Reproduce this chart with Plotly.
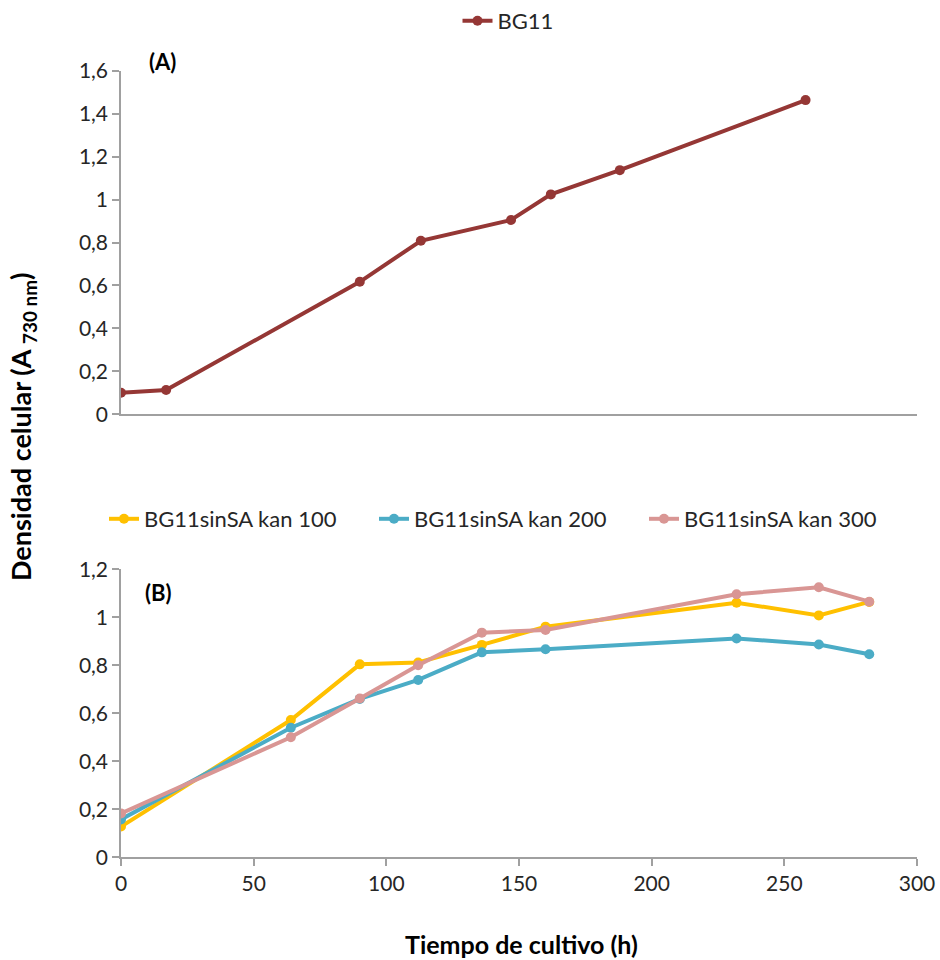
import plotly.graph_objects as go

# Panel A data
time_a = [0, 17, 90, 113, 147, 162, 188, 258]
bg11 = [0.10, 0.113, 0.617, 0.808, 0.905, 1.024, 1.137, 1.463]

# Panel B data
time_b = [0, 64, 90, 112, 136, 160, 232, 263, 282]
kan100 = [0.128, 0.572, 0.804, 0.812, 0.885, 0.961, 1.061, 1.008, 1.064]
kan200 = [0.158, 0.540, 0.660, 0.739, 0.854, 0.867, 0.912, 0.887, 0.846]
kan300 = [0.183, 0.500, 0.662, 0.800, 0.936, 0.947, 1.096, 1.125, 1.065]

FONT = "Lato"
AX = "#A0A0A0"
TXT = "#262626"

# figure fills the page (body margin removed via post_script)
OFF = 0
W, H = 940, 960


def px(p):
    return (p - OFF) / W


def py(p):
    return 1 - (p - OFF) / H


fig = go.Figure()

fig.add_trace(go.Scatter(x=time_a, y=bg11, name="BG11", mode="lines+markers",
                         line=dict(color="#953735", width=4), marker=dict(size=10, color="#953735"),
                         xaxis="x", yaxis="y", legend="legend"))

for name, vals, col in [("BG11sinSA kan 100", kan100, "#FFC000"),
                        ("BG11sinSA kan 200", kan200, "#4BACC6"),
                        ("BG11sinSA kan 300", kan300, "#D99694")]:
    fig.add_trace(go.Scatter(x=time_b, y=vals, name=name, mode="lines+markers",
                             line=dict(color=col, width=4), marker=dict(size=10, color=col),
                             xaxis="x2", yaxis="y2", legend="legend2"))

xd = [px(121), px(917)]
common_y = dict(showgrid=False, zeroline=False, showline=True, linecolor=AX, linewidth=1.5,
                ticks="outside", tickcolor=AX, ticklen=7, tickwidth=1.5,
                tickfont=dict(family=FONT, size=21, color=TXT))

fig.update_layout(
    width=W, height=H,
    margin=dict(l=0, r=0, t=0, b=0, autoexpand=False),
    paper_bgcolor="white", plot_bgcolor="white",
    separators=",.",
    font=dict(family=FONT, color=TXT),
    xaxis=dict(domain=xd, range=[0, 300], anchor="y", showgrid=False, zeroline=False,
               showline=True, linecolor=AX, linewidth=1.5, showticklabels=False, ticks=""),
    yaxis=dict(domain=[py(414.3), py(70.7)], range=[0, 1.6], dtick=0.2, anchor="x", **common_y),
    xaxis2=dict(domain=xd, range=[0, 300], dtick=50, anchor="y2", showgrid=False, zeroline=False,
                showline=True, linecolor=AX, linewidth=1.5, ticks="outside", tickcolor=AX,
                ticklen=7, tickwidth=1.5, tickfont=dict(family=FONT, size=21, color=TXT),
                ticklabeloverflow="allow"),
    yaxis2=dict(domain=[py(857.3), py(569.3)], range=[0, 1.2], dtick=0.2, anchor="x2", **common_y),
    legend=dict(orientation="h", x=px(508), y=py(21), xanchor="center", yanchor="middle",
                font=dict(family=FONT, size=22, color=TXT), bgcolor="rgba(0,0,0,0)"),
    legend2=dict(orientation="h", x=px(104), y=py(519), xanchor="left", yanchor="middle",
                 entrywidth=225, entrywidthmode="pixels",
                 font=dict(family=FONT, size=22, color=TXT), bgcolor="rgba(0,0,0,0)"),
    showlegend=True,
)

ann = dict(xref="paper", yref="paper", showarrow=False, xanchor="center", yanchor="middle")
fig.add_annotation(text="<b>(A)</b>", x=px(162), y=py(62),
                   font=dict(family=FONT, size=22, color="black"), **ann)
fig.add_annotation(text="<b>(B)</b>", x=px(158), y=py(592),
                   font=dict(family=FONT, size=22, color="black"), **ann)
fig.add_annotation(text="<b>Densidad celular (A <sub>730 nm</sub>)</b>", x=px(22), y=py(427),
                   textangle=-90, font=dict(family=FONT, size=27, color="black"), **ann)
fig.add_annotation(text="<b>Tiempo de cultivo (h)</b>", x=px(521), y=py(944),
                   font=dict(family=FONT, size=25, color="black"), **ann)

fig.write_html("out.html", config={"displayModeBar": False},
               post_script="document.body.style.margin='0';document.body.style.overflow='hidden';")
